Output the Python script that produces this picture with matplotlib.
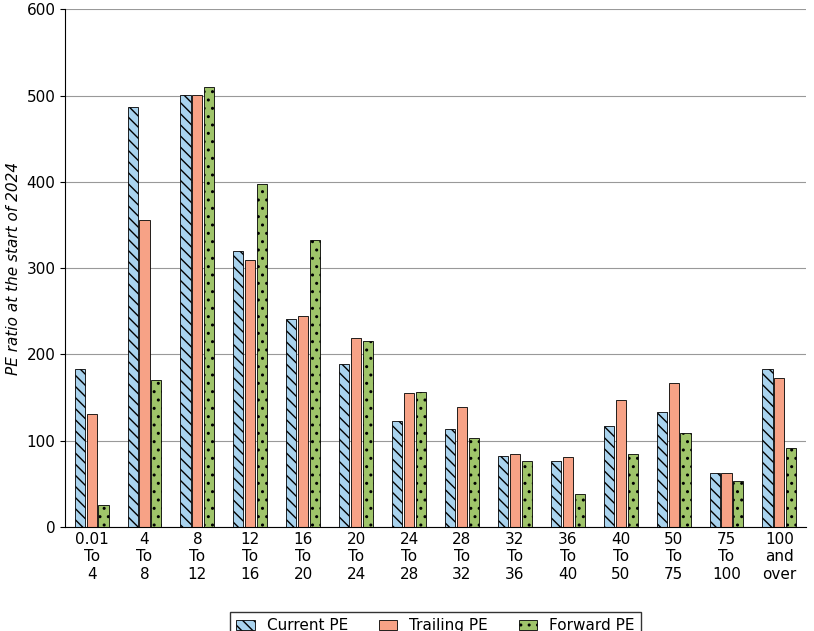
import numpy as np
import matplotlib.pyplot as plt

categories = ["0.01\nTo\n4", "4\nTo\n8", "8\nTo\n12", "12\nTo\n16", "16\nTo\n20", "20\nTo\n24",
              "24\nTo\n28", "28\nTo\n32", "32\nTo\n36", "36\nTo\n40", "40\nTo\n50", "50\nTo\n75",
              "75\nTo\n100", "100\nand\nover"]
current_pe = [183, 487, 501, 320, 241, 189, 123, 114, 82, 76, 117, 133, 62, 183]
trailing_pe = [131, 356, 501, 310, 245, 219, 155, 139, 85, 81, 147, 167, 63, 173]
forward_pe = [25, 170, 510, 398, 333, 215, 156, 103, 76, 38, 85, 109, 53, 92]

plt.rcParams['hatch.linewidth'] = 1.0
fig, ax = plt.subplots(figsize=(8.14, 6.31), dpi=100)
x = np.arange(len(categories))
w = 0.19
step = 0.225
ax.bar(x - step, current_pe, w, color='#a9d3ee', edgecolor='black', linewidth=0.6, hatch='\\\\\\', label='Current PE')
ax.bar(x, trailing_pe, w, color='#f7a286', edgecolor='black', linewidth=0.6, label='Trailing PE')
ax.bar(x + step, forward_pe, w, color='#9fc46a', edgecolor='black', linewidth=0.6, hatch='..', label='Forward PE')

ax.set_ylim(0, 600)
ax.set_xlim(-0.5, len(categories) - 0.5)
ax.set_yticks(range(0, 601, 100))
ax.yaxis.grid(True, color='#999999', linewidth=0.8)
ax.set_axisbelow(True)
ax.set_xticks(x)
ax.set_xticklabels(categories, fontsize=11)
ax.tick_params(axis='y', labelsize=11)
ax.tick_params(axis='x', length=0)
ax.set_ylabel('PE ratio at the start of 2024', fontsize=11, style='italic')
for s in ['top', 'right']:
    ax.spines[s].set_visible(False)
ax.legend(loc='upper center', bbox_to_anchor=(0.5, -0.15), ncol=3, frameon=True,
          fancybox=False, edgecolor='black', fontsize=11, handlelength=1.2)
plt.subplots_adjust(left=0.08, right=0.99, top=0.985, bottom=0.165)
plt.savefig('out.png', dpi=100)
